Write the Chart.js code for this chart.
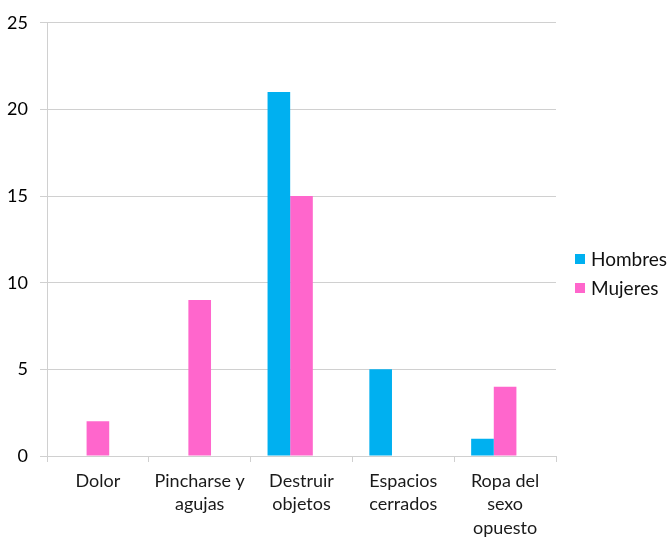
<!DOCTYPE html>
<html>
<head>
<meta charset="utf-8">
<script src="https://cdn.jsdelivr.net/npm/chart.js@4"></script>
<style>
  body { margin: 0; background: #fff; }
  #wrap { position: relative; width: 670px; height: 541px; }
  .legend { position: absolute; left: 575px; font-family: Lato, sans-serif; font-size: 19px; color: #111; }
  .legend div { display: flex; align-items: center; height: 29px; }
  .legend span.box { display: inline-block; width: 10px; height: 10px; margin-right: 6px; }
</style>
</head>
<body>
<div id="wrap">
  <canvas id="chart" width="670" height="541"></canvas>
  <div class="legend" id="legend" style="top:244px"></div>
</div>
<script>
const categories = ["Dolor", ["Pincharse y", "agujas"], ["Destruir", "objetos"], ["Espacios", "cerrados"], ["Ropa del", "sexo", "opuesto"]];
const hombres = [0, 0, 21, 5, 1];
const mujeres = [2, 9, 15, 0, 4];
const vacio = [null, null, null, null, null]; // empty third series keeps the group offset
const seriesNames = ["Hombres", "Mujeres"];
const seriesColors = ["#00B0F0", "#FF66CC"];

const chart = new Chart(document.getElementById("chart"), {
  type: "bar",
  data: {
    labels: categories,
    datasets: [
      { label: seriesNames[0], data: hombres, backgroundColor: seriesColors[0] },
      { label: seriesNames[1], data: mujeres, backgroundColor: seriesColors[1] },
      { label: "", data: vacio, backgroundColor: "rgba(0,0,0,0)" }
    ]
  },
  options: {
    responsive: false,
    animation: false,
    layout: { padding: { top: 20, right: 114, left: 0, bottom: 0 } },
    datasets: { bar: { categoryPercentage: 0.667, barPercentage: 1.0 } },
    plugins: { legend: { display: false }, tooltip: { enabled: false } },
    scales: {
      x: {
        grid: { drawOnChartArea: false, drawTicks: true, tickLength: 6, color: "#d0d0d0" },
        border: { color: "#d0d0d0" },
        ticks: { color: "#1a1a1a", font: { family: "Lato", size: 18, lineHeight: 1.32 }, padding: 7, maxRotation: 0, autoSkip: false },
        afterFit: s => { s.height = 85; }
      },
      y: {
        min: 0, max: 25,
        ticks: { stepSize: 5, color: "#000", font: { family: "Lato", size: 18 }, padding: 12 },
        grid: { color: "#d0d0d0", tickLength: 7 },
        border: { color: "#d0d0d0" },
        afterFit: s => { s.width = 47; }
      }
    }
  }
});

const legend = document.getElementById("legend");
seriesNames.forEach((name, i) => {
  const row = document.createElement("div");
  row.innerHTML = '<span class="box" style="background:' + seriesColors[i] + '"></span>' + name;
  legend.appendChild(row);
});
</script>
</body>
</html>
